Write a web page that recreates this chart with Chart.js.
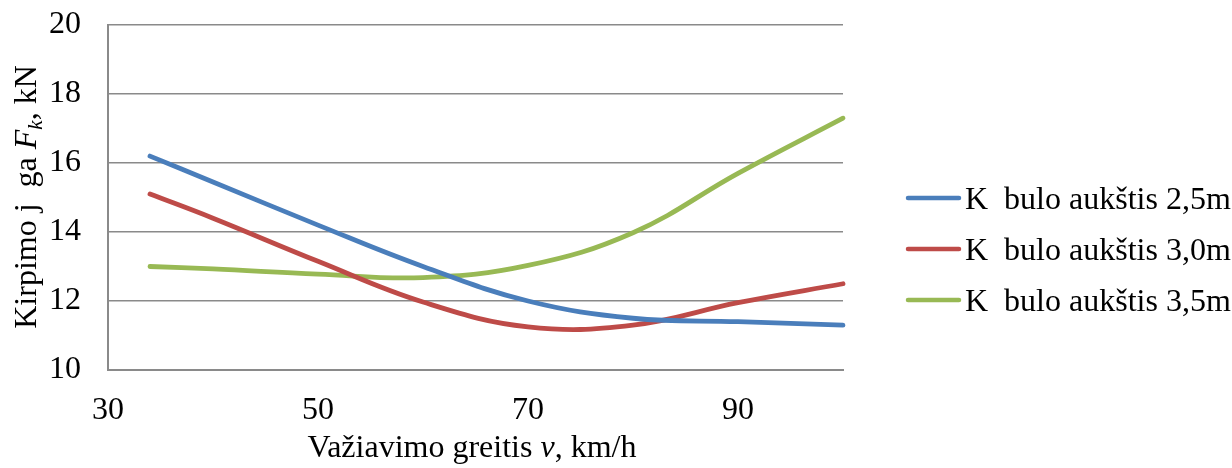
<!DOCTYPE html>
<html>
<head>
<meta charset="utf-8">
<script src="https://cdn.jsdelivr.net/npm/chart.js@4/dist/chart.umd.min.js"></script>
<style>
  html, body { margin: 0; padding: 0; background: #fff; }
  #wrap { width: 1232px; height: 468px; position: relative; }
</style>
</head>
<body>
<div id="wrap"><canvas id="kirpimoChart"></canvas></div>
<script>
// duomenys nuskaityti nuo grafiko
const speeds = [34, 40, 50, 60, 70, 80, 90, 100];            // km/h
const force25 = [16.2, 15.45, 14.2, 13.0, 12.0, 11.5, 11.4, 11.3];
const force30 = [15.1, 14.4, 13.15, 11.97, 11.25, 11.3, 11.95, 12.5];
const force35 = [13.0, 12.93, 12.78, 12.68, 13.03, 13.98, 15.7, 17.3];
const seriesNames = ['K  bulo aukštis 2,5m', 'K  bulo aukštis 3,0m', 'K  bulo aukštis 3,5m'];
const xTicks = [30, 50, 70, 90];
const yTicks = [10, 12, 14, 16, 18, 20];

const SERIF = '"Liberation Serif", "Times New Roman", serif';
const GRID = '#8a8a8a';

function toPoints(values) {
    return speeds.map((v, i) => ({ x: v, y: values[i] }));
}

// tekstas iš kelių dalių (paprastas / kursyvas / indeksas)
function drawRuns(ctx, runs, cx, baseline) {
    let total = 0;
    runs.forEach(r => {
        ctx.font = `${r.style || 'normal'} ${r.size}px ${SERIF}`;
        r.w = ctx.measureText(r.text).width;
        total += r.w;
    });
    let x = cx - total / 2;
    runs.forEach(r => {
        ctx.font = `${r.style || 'normal'} ${r.size}px ${SERIF}`;
        ctx.fillText(r.text, x, baseline + (r.dy || 0));
        x += r.w;
    });
}

const titlesPlugin = {
    id: 'titlesAndLegend',
    afterDraw(chart) {
        const ctx = chart.ctx;
        ctx.save();
        ctx.fillStyle = '#000';
        ctx.textAlign = 'left';
        ctx.textBaseline = 'alphabetic';

        // x ašies pavadinimas
        drawRuns(ctx, [
            { text: 'Važiavimo greitis ', size: 32 },
            { text: 'v', size: 32, style: 'italic' },
            { text: ', km/h', size: 32 }
        ], 472, 457);

        // y ašies pavadinimas (pasuktas)
        ctx.save();
        ctx.translate(36, 197);
        ctx.rotate(-Math.PI / 2);
        drawRuns(ctx, [
            { text: 'Kirpimo j  ga ', size: 32 },
            { text: 'F', size: 32, style: 'italic' },
            { text: 'k', size: 21, style: 'italic', dy: 6 },
            { text: ', kN', size: 32 }
        ], 0, 0);
        ctx.restore();

        // legenda dešinėje
        const rowY = [198, 249, 300];
        chart.data.datasets.forEach((ds, i) => {
            const y = rowY[i];
            ctx.strokeStyle = ds.borderColor;
            ctx.lineWidth = 4.5;
            ctx.lineCap = 'round';
            ctx.beginPath();
            ctx.moveTo(908, y);
            ctx.lineTo(959, y);
            ctx.stroke();
            ctx.font = `32px ${SERIF}`;
            ctx.fillText(ds.label, 965, y + 11);
        });
        ctx.restore();
    }
};

const lineStyle = {
    borderWidth: 4.8,
    pointRadius: 0,
    pointHoverRadius: 0,
    tension: 0.4,
    borderCapStyle: 'round',
    borderJoinStyle: 'round',
    fill: false,
    clip: false
};

new Chart(document.getElementById('kirpimoChart').getContext('2d'), {
    type: 'line',
    data: {
        datasets: [
            { ...lineStyle, label: seriesNames[0], data: toPoints(force25), borderColor: '#4a7ebb' },
            { ...lineStyle, label: seriesNames[1], data: toPoints(force30), borderColor: '#be4b48' },
            { ...lineStyle, label: seriesNames[2], data: toPoints(force35), borderColor: '#98b954' }
        ]
    },
    options: {
        responsive: true,
        maintainAspectRatio: false,
        animation: false,
        events: [],
        layout: { padding: { left: 0, right: 389, top: 25, bottom: 0 } },
        plugins: {
            legend: { display: false },
            tooltip: { enabled: false }
        },
        scales: {
            x: {
                type: 'linear',
                min: 30,
                max: 100,
                afterBuildTicks: s => { s.ticks = xTicks.map(v => ({ value: v })); },
                afterFit: s => { s.height = 98; s.paddingLeft = 0; s.paddingRight = 0; },
                grid: { display: false, drawTicks: false },
                border: { display: true, color: GRID, width: 2 },
                ticks: {
                    padding: 21,
                    maxRotation: 0,
                    color: '#000',
                    font: { family: SERIF, size: 32 }
                }
            },
            y: {
                min: 10,
                max: 20,
                afterBuildTicks: s => { s.ticks = yTicks.map(v => ({ value: v })); },
                afterFit: s => { s.width = 108; s.paddingTop = 0; s.paddingBottom = 0; },
                grid: { color: GRID, lineWidth: 1.5, drawTicks: false },
                border: { display: true, color: GRID, width: 2 },
                ticks: {
                    padding: 27,
                    color: '#000',
                    font: { family: SERIF, size: 32 }
                }
            }
        }
    },
    plugins: [titlesPlugin]
});
</script>
</body>
</html>
